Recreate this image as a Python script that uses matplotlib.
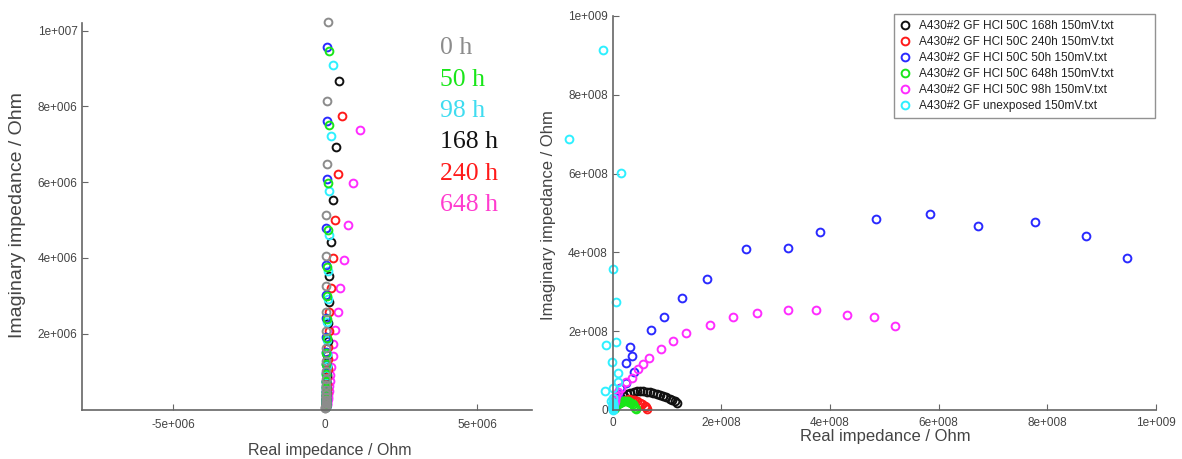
import numpy as np
import matplotlib.pyplot as plt
from matplotlib.ticker import FuncFormatter

# ---------- linkes Diagramm (Werte in 1e6 Ohm) ----------
grau_y = [10.22, 8.13, 6.48, 5.14, 4.06, 3.26, 2.58, 2.06, 1.62, 1.29, 1.02, 0.81, 0.64,
          0.51, 0.41, 0.32, 0.26, 0.20, 0.16, 0.13, 0.10, 0.08, 0.06, 0.05, 0.04]
grau_x = [0.08, 0.06, 0.05, 0.04, 0.03, 0.03, 0.03, 0.02, 0.02, 0.02, 0.02, 0.02, 0.02,
          0.01, 0.01, 0.01, 0.01, 0.01, 0.01, 0.01, 0.01, 0.01, 0.0, 0.0, 0.0]
blau_y = [9.57, 7.61, 6.07, 4.80, 3.82, 3.03, 2.41, 1.92, 1.52, 1.21, 0.96, 0.76, 0.61,
          0.48, 0.38, 0.30, 0.24, 0.19, 0.15, 0.12, 0.10, 0.08, 0.06]
blau_x = [0.05, 0.05, 0.05, 0.04, 0.04, 0.04, 0.03, 0.03, 0.03, 0.03, 0.02, 0.02, 0.02,
          0.02, 0.02, 0.01, 0.01, 0.01, 0.01, 0.01, 0.01, 0.01, 0.01]
gruen_y = [9.46, 7.52, 5.99, 4.74, 3.77, 2.99, 2.38, 1.89, 1.50, 1.19, 0.95, 0.75, 0.60,
           0.47, 0.38, 0.30, 0.24, 0.19, 0.15, 0.12, 0.09, 0.07]
gruen_x = [0.14, 0.11, 0.09, 0.08, 0.06, 0.06, 0.05, 0.05, 0.04, 0.04, 0.04, 0.03, 0.03,
           0.03, 0.02, 0.02, 0.02, 0.02, 0.01, 0.01, 0.01, 0.01]
cyan_y = [9.08, 7.23, 5.76, 4.61, 3.66, 2.91, 2.31, 1.84, 1.46, 1.16, 0.92, 0.73, 0.58,
          0.46, 0.37, 0.29, 0.23, 0.18, 0.15, 0.12, 0.09]
cyan_x = [0.24, 0.19, 0.14, 0.11, 0.09, 0.08, 0.07, 0.06, 0.05, 0.05, 0.04, 0.04, 0.03,
          0.03, 0.03, 0.02, 0.02, 0.02, 0.02, 0.01, 0.01]
schwarz_y = [8.66, 6.94, 5.54, 4.42, 3.53, 2.85, 2.27, 1.81, 1.44, 1.15, 0.92, 0.73, 0.58,
             0.46, 0.37, 0.29, 0.23, 0.18, 0.15, 0.12]
schwarz_x = [0.46, 0.35, 0.25, 0.19, 0.13, 0.11, 0.09, 0.08, 0.07, 0.06, 0.05, 0.04, 0.04,
             0.03, 0.03, 0.02, 0.02, 0.02, 0.02, 0.01]
rot_y = [7.74, 6.22, 4.99, 4.00, 3.20, 2.58, 2.07, 1.66, 1.33, 1.06, 0.85, 0.68, 0.54,
         0.43, 0.35, 0.28, 0.22, 0.18, 0.14, 0.11]
rot_x = [0.54, 0.43, 0.33, 0.25, 0.19, 0.14, 0.12, 0.10, 0.09, 0.08, 0.07, 0.06, 0.05,
         0.05, 0.04, 0.04, 0.03, 0.03, 0.02, 0.02]
magenta_y = [7.37, 5.99, 4.86, 3.95, 3.20, 2.58, 2.10, 1.72, 1.40, 1.13, 0.92, 0.75, 0.61,
             0.50, 0.41, 0.33, 0.27, 0.22, 0.18, 0.15, 0.12, 0.10]
magenta_x = [1.15, 0.93, 0.76, 0.63, 0.50, 0.41, 0.33, 0.27, 0.24, 0.20, 0.17, 0.15, 0.13,
             0.11, 0.10, 0.09, 0.08, 0.07, 0.06, 0.05, 0.05, 0.04]

zeiten = ["0 h", "50 h", "98 h", "168 h", "240 h", "648 h"]
zeit_farben = ["#8c8c8c", "#19e619", "#3fdcf0", "#111111", "#ff1a1a", "#ff3ccf"]

# ---------- rechtes Diagramm (Werte in 1e8 Ohm) ----------
legende = ["A430#2 GF HCl 50C 168h 150mV.txt",
           "A430#2 GF HCl 50C 240h 150mV.txt",
           "A430#2 GF HCl 50C 50h 150mV.txt",
           "A430#2 GF HCl 50C 648h 150mV.txt",
           "A430#2 GF HCl 50C 98h 150mV.txt",
           "A430#2 GF unexposed 150mV.txt"]

h168_x = [0.01, 0.03, 0.06, 0.10, 0.15, 0.21, 0.27, 0.33, 0.39, 0.45, 0.51, 0.57, 0.63,
          0.69, 0.75, 0.81, 0.87, 0.93, 0.99, 1.05, 1.10, 1.15, 1.18]
h168_y = [0.04, 0.10, 0.17, 0.24, 0.30, 0.35, 0.40, 0.43, 0.46, 0.47, 0.48, 0.47, 0.46,
          0.45, 0.43, 0.41, 0.38, 0.35, 0.32, 0.29, 0.25, 0.22, 0.18]
h240_x = [0.01, 0.03, 0.06, 0.10, 0.15, 0.20, 0.25, 0.30, 0.35, 0.40, 0.45, 0.50, 0.55,
          0.59, 0.62, 0.64]
h240_y = [0.03, 0.07, 0.12, 0.17, 0.21, 0.24, 0.26, 0.27, 0.26, 0.25, 0.22, 0.19, 0.15,
          0.11, 0.07, 0.03]
h50_x = [0.00, 0.01, 0.02, 0.04, 0.06, 0.10, 0.14, 0.25, 0.39, 0.35, 0.25, 0.33, 0.71,
         0.95, 1.28, 1.73, 2.46, 3.22, 3.82, 4.85, 5.85, 6.72, 7.77, 8.71, 9.47]
h50_y = [0.03, 0.08, 0.14, 0.22, 0.30, 0.40, 0.55, 0.68, 0.96, 1.38, 1.19, 1.60, 2.04,
         2.36, 2.84, 3.32, 4.09, 4.12, 4.52, 4.84, 4.97, 4.66, 4.76, 4.42, 3.87]
h648_x = [0.02, 0.04, 0.07, 0.10, 0.13, 0.16, 0.19, 0.22, 0.25, 0.28, 0.31, 0.34, 0.37,
          0.40, 0.42, 0.44]
h648_y = [0.03, 0.06, 0.10, 0.14, 0.17, 0.20, 0.22, 0.23, 0.23, 0.22, 0.20, 0.17, 0.14,
          0.10, 0.06, 0.03]
h98_x = [0.00, 0.01, 0.01, 0.02, 0.03, 0.04, 0.05, 0.07, 0.10, 0.15, 0.25, 0.35, 0.46,
         0.57, 0.68, 0.89, 1.12, 1.36, 1.79, 2.21, 2.66, 3.22, 3.75, 4.32, 4.81, 5.19]
h98_y = [0.04, 0.08, 0.11, 0.14, 0.18, 0.23, 0.29, 0.36, 0.45, 0.56, 0.70, 0.81, 1.04,
         1.16, 1.33, 1.55, 1.76, 1.95, 2.17, 2.36, 2.47, 2.53, 2.54, 2.42, 2.36, 2.14]
unexp_x = [0.00, 0.00, 0.01, 0.00, 0.01, 0.00, 0.01, 0.00, 0.01, 0.00, -0.02, 0.01,
           -0.13, 0.00, 0.11, 0.10, -0.01, -0.12, 0.07, 0.07, 0.00, 0.15, -0.80, -0.18]
unexp_y = [0.01, 0.02, 0.03, 0.04, 0.05, 0.07, 0.09, 0.11, 0.14, 0.18, 0.22, 0.30,
           0.47, 0.55, 0.70, 0.94, 1.23, 1.64, 1.72, 2.75, 3.59, 6.01, 6.88, 9.14]
rechts_farben = ["#111111", "#ff1a1a", "#2a2aff", "#19e619", "#ff2cff", "#2ef0ff"]


def sci(v, pos):
    if abs(v) < 1e-9:
        return "0"
    e = int(np.floor(np.log10(abs(v)) + 1e-9))
    m = v / 10 ** e
    return f"{m:.0f}e+{e:03d}"


def achse_stil(ax):
    for s in ["top", "right"]:
        ax.spines[s].set_visible(False)
    for s in ["left", "bottom"]:
        ax.spines[s].set_color("#666666")
        ax.spines[s].set_linewidth(1.2)
    ax.tick_params(direction="in", length=4, color="#666666", labelcolor="#444444",
                   labelsize=8.5)
    ax.xaxis.set_major_formatter(FuncFormatter(sci))
    ax.yaxis.set_major_formatter(FuncFormatter(sci))


plt.rcParams["font.family"] = ["Liberation Sans", "DejaVu Sans"]
W, H = 1182, 459
fig = plt.figure(figsize=(W / 100, H / 100), dpi=100)
MS, MEW = 5.6, 1.4

# linkes Diagramm
ax1 = fig.add_axes([82.3 / W, (H - 409.5) / H, 449.4 / W, 386.5 / H])
links = [(magenta_x, magenta_y, "#ff2cff"), (rot_x, rot_y, "#ff1a1a"),
         (schwarz_x, schwarz_y, "#111111"), (cyan_x, cyan_y, "#2ef0ff"),
         (blau_x, blau_y, "#2a2aff"), (gruen_x, gruen_y, "#19e619"),
         (grau_x, grau_y, "#8c8c8c")]
for xs, ys, c in links:
    ax1.plot(np.array(xs) * 1e6, np.array(ys) * 1e6, "o", mfc="none", mec=c,
             ms=MS, mew=MEW, clip_on=False)
ax1.set_xlim(-8e6, 6.8e6)
ax1.set_ylim(0, 1.02e7)
ax1.set_xticks([-5e6, 0, 5e6])
ax1.set_yticks([2e6, 4e6, 6e6, 8e6, 1e7])
achse_stil(ax1)
ax1.tick_params(axis="x", pad=7)
for i, (t, c) in enumerate(zip(zeiten, zeit_farben)):
    fig.text(440 / W, 1 - (48.3 + i * 31.4) / H, t, color=c, fontsize=18.5,
             family=["Liberation Serif", "DejaVu Serif"], va="center", ha="left")
fig.text(18 / W, 1 - 215 / H, "Imaginary impedance / Ohm", rotation=90, fontsize=14,
         color="#444444", ha="center", va="center")
fig.text(330 / W, 1 - 451 / H, "Real impedance / Ohm", fontsize=11.5,
         color="#444444", ha="center", va="center")

# rechtes Diagramm
ax2 = fig.add_axes([612.5 / W, (H - 410) / H, 543.5 / W, 394 / H])
reihen = [(h168_x, h168_y), (h240_x, h240_y), (h50_x, h50_y),
          (h648_x, h648_y), (h98_x, h98_y), (unexp_x, unexp_y)]
for (xs, ys), c, lab in zip(reihen, rechts_farben, legende):
    ax2.plot(np.array(xs) * 1e8, np.array(ys) * 1e8, "o", mfc="none", mec=c,
             ms=MS, mew=MEW, clip_on=False, label=lab)
ax2.set_xlim(0, 1e9)
ax2.set_ylim(0, 1e9)
ax2.set_xticks([0, 2e8, 4e8, 6e8, 8e8, 1e9])
ax2.set_yticks([0, 2e8, 4e8, 6e8, 8e8, 1e9])
achse_stil(ax2)
ax2.tick_params(axis="x", pad=5)
leg = ax2.legend(loc="upper left", bbox_to_anchor=(894 / W, 1 - 110 / H, 261 / W, 96 / H),
                 bbox_transform=fig.transFigure, mode="expand", fontsize=8.6,
                 frameon=True, fancybox=False, edgecolor="#777777",
                 handletextpad=0.7, labelspacing=0.34, borderpad=0.5,
                 handlelength=0.9, borderaxespad=0)
leg.get_frame().set_linewidth(1.0)
for t in leg.get_texts():
    t.set_color("#222222")
fig.text(548 / W, 1 - 215 / H, "Imaginary impedance / Ohm", rotation=90, fontsize=12,
         color="#444444", ha="center", va="center")
fig.text(885 / W, 1 - 437 / H, "Real impedance / Ohm", fontsize=12,
         color="#444444", ha="center", va="center")

plt.savefig("out.png", dpi=100)
